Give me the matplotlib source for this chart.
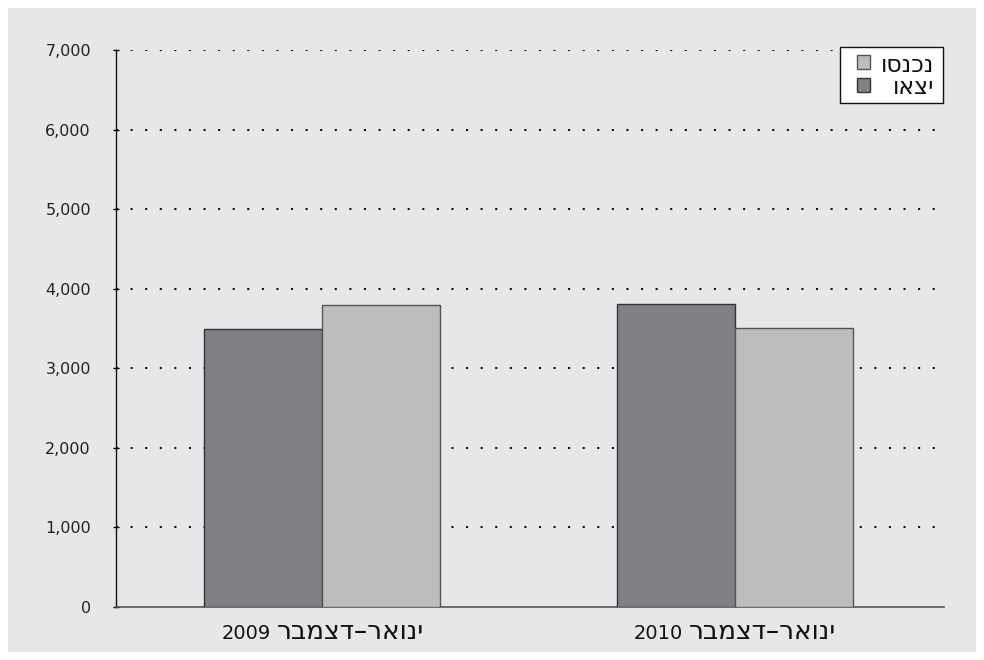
import matplotlib
matplotlib.use("Agg")
import matplotlib.pyplot as plt
from matplotlib.patches import Rectangle
from matplotlib.transforms import Affine2D
import numpy as np

plt.rcParams['font.family'] = ['DejaVu Sans']

categories = ["ינואר–דצמבר 2009", "ינואר–דצמבר 2010"]
series_names = ["נכנסו", "יצאו"]
entered = [3800, 3510]   # נכנסו (light)
left_ = [3500, 3810]     # יצאו (dark)
yticks = [0, 1000, 2000, 3000, 4000, 5000, 6000, 7000]

DARK = "#808184"
LIGHT = "#bcbdbf"
BG = "#e6e7e8"

fig = plt.figure(figsize=(9.84, 6.6), dpi=100)
fig.patch.set_facecolor("white")
bg = Rectangle((8 / 984, 8 / 660), 968 / 984, 644 / 660,
               transform=fig.transFigure, facecolor=BG,
               edgecolor="none", zorder=-10)
fig.add_artist(bg)

ax = fig.add_axes([116 / 984, 1 - 607 / 660, 828 / 984, 557 / 660])
ax.set_zorder(1)
ax.set_facecolor(BG)

x = np.arange(len(categories))
w = 0.286
ax.bar(x - w / 2, left_, width=w, color=DARK, edgecolor="#333333", linewidth=1.0,
       zorder=3)
ax.bar(x + w / 2, entered, width=w, color=LIGHT, edgecolor="#555555", linewidth=1.0,
       zorder=3)

ax.set_xlim(-0.5, 1.506)
ax.set_ylim(0, 7000)
ax.set_yticks(yticks)
ax.set_yticklabels([f"{v:,}" for v in yticks], fontsize=11.5, color="#222222")
ax.set_xticks(x)
ax.set_xticklabels([])
ax.tick_params(axis='x', length=0)
ax.tick_params(axis='y', length=4, width=1, direction='inout', pad=16)

for v in yticks[1:]:
    ax.axhline(v, color="#111111", linestyle=(0, (1, 6.0)), linewidth=1.5, zorder=1)

for s in ["top", "right"]:
    ax.spines[s].set_visible(False)
ax.spines["left"].set_color("#111111")
ax.spines["left"].set_linewidth(1.0)
ax.spines["bottom"].set_color("#555555")
ax.spines["bottom"].set_linewidth(1.2)

# category labels: RTL Hebrew part + number (number shown at left)
fig.canvas.draw()
r = fig.canvas.get_renderer()
base_y = -32 / 557
gap = 6
for xi, cat in zip(x, categories):
    heb, num = cat.rsplit(" ", 1)
    tn = ax.text(xi, base_y, num, fontsize=14, color="#111111",
                 va="baseline", ha="left", transform=ax.get_xaxis_transform(),
                 clip_on=False)
    th = ax.text(xi, base_y, heb[::-1], fontsize=19, color="#111111",
                 va="baseline", ha="left", transform=ax.get_xaxis_transform(),
                 clip_on=False)
    wn = tn.get_window_extent(r).width
    wh = th.get_window_extent(r).width
    total = wn + gap + wh
    tn.set_transform(ax.get_xaxis_transform() + Affine2D().translate(-total / 2, 0))
    th.set_transform(ax.get_xaxis_transform() + Affine2D().translate(-total / 2 + wn + gap, 0))

# legend (RTL: swatch left, text right-aligned)
def ax_x(px):
    return (px - 116) / 828


def ax_y(py):
    return (607 - py) / 557


frame = Rectangle((ax_x(840), ax_y(103)), ax_x(943) - ax_x(840), ax_y(47) - ax_y(103),
                  transform=ax.transAxes, facecolor="white", edgecolor="#111111",
                  linewidth=1.0, zorder=5, clip_on=False)
ax.add_patch(frame)
leg_items = [(series_names[0], LIGHT, "#555555", 62), (series_names[1], DARK, "#333333", 85)]
for name, fc, ec, cy in leg_items:
    ax.add_patch(Rectangle((ax_x(857), ax_y(cy + 6.5)), ax_x(870) - ax_x(857),
                           ax_y(cy - 6.5) - ax_y(cy + 6.5), transform=ax.transAxes,
                           facecolor=fc, edgecolor=ec, linewidth=1.0, zorder=6,
                           clip_on=False))
    ax.text(ax_x(934), ax_y(cy), name[::-1], fontsize=17, color="#111111",
            ha="right", va="center_baseline", transform=ax.transAxes, zorder=7,
            clip_on=False)

fig.savefig("out.png", dpi=100, facecolor=fig.get_facecolor())
